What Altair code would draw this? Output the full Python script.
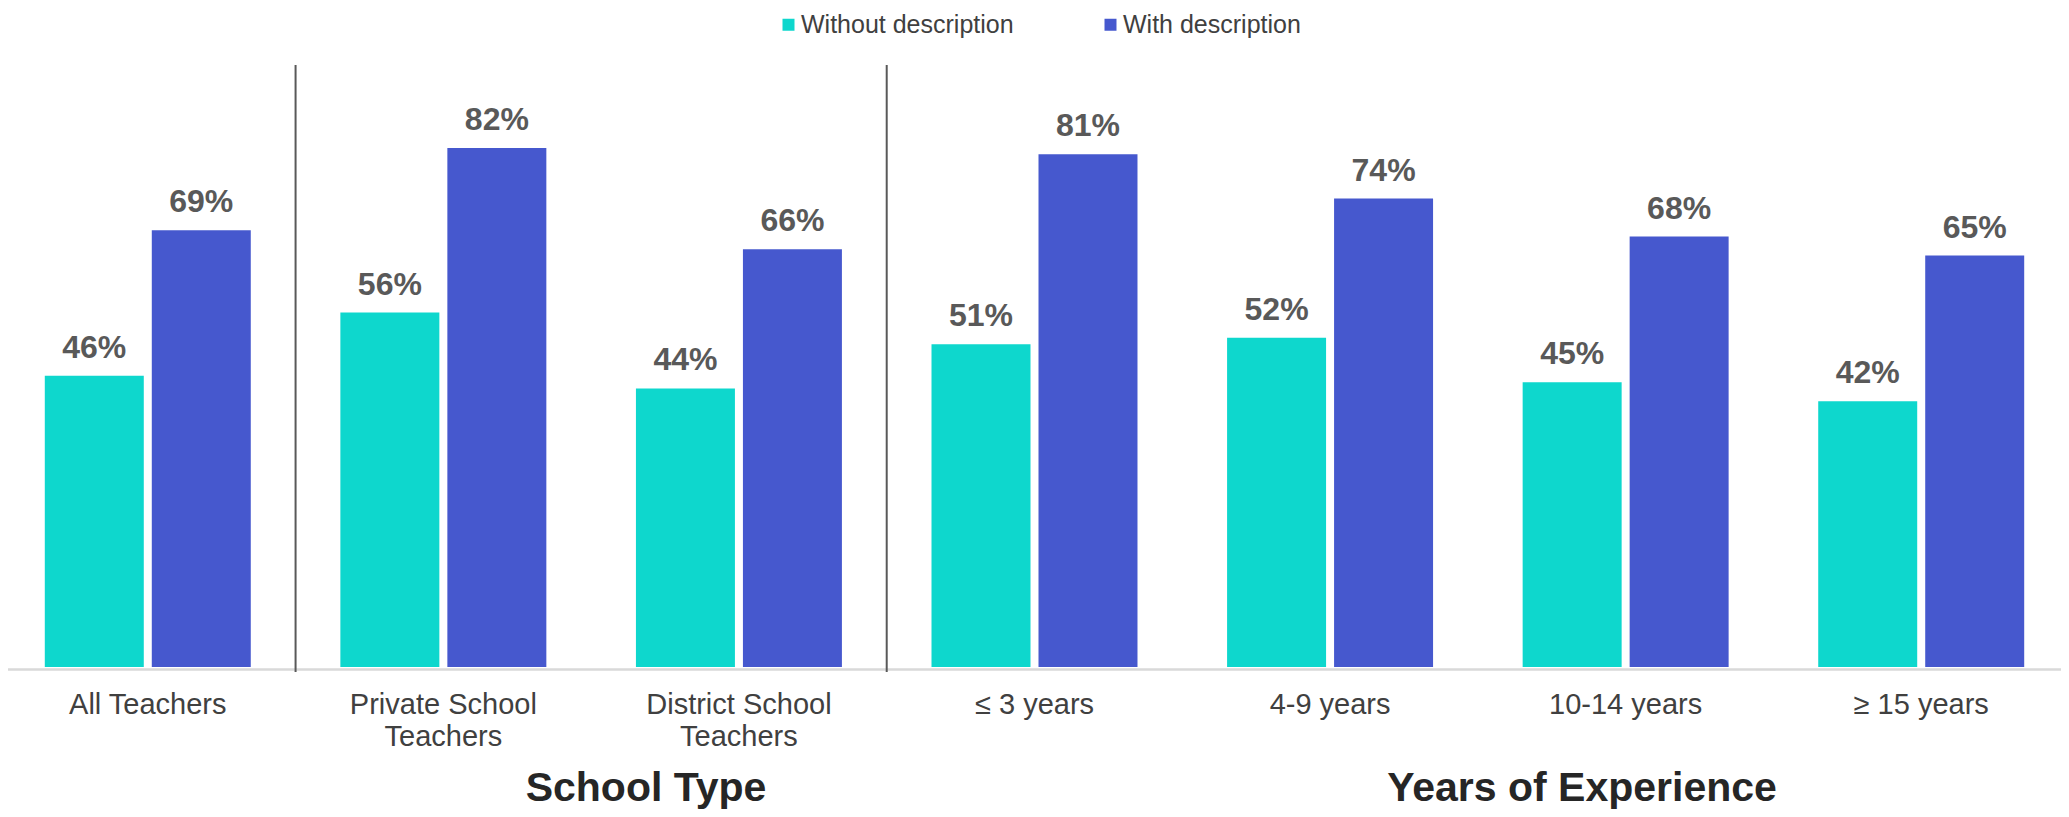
import altair as alt
import pandas as pd

categories = ["All Teachers", "Private School\nTeachers", "District School\nTeachers",
              "≤ 3 years", "4-9 years", "10-14 years", "≥ 15 years"]
series = ["Without description", "With description"]
without_desc = [46, 56, 44, 51, 52, 45, 42]
with_desc = [69, 82, 66, 81, 74, 68, 65]
section_starts = ["Private School\nTeachers", "≤ 3 years"]
section_titles = ["School Type", "Years of Experience"]
colors = ["#0ED7CD", "#4658CE"]

rows = []
for c, a, b in zip(categories, without_desc, with_desc):
    rows.append({"category": c, "series": series[0], "value": a, "label": f"{a}%"})
    rows.append({"category": c, "series": series[1], "value": b, "label": f"{b}%"})
df = pd.DataFrame(rows)
sep_df = pd.DataFrame({"category": section_starts})

FONT = "Liberation Sans, Arial, Helvetica, sans-serif"

x_scale = alt.Scale(domain=categories, range=[-8, 2061], paddingInner=0, paddingOuter=0)
x_axis = alt.Axis(title=None, labelAngle=0, labelFontSize=29, labelFont=FONT,
                  labelColor="#404040", labelExpr="split(datum.label, '\\n')",
                  labelLineHeight=32, ticks=False, domainColor="#D9D9D9",
                  domainWidth=2.5, offset=2, labelPadding=21, grid=False,
                  labelOverlap=False, labelLimit=400)
xoff = alt.XOffset("series:N", scale=alt.Scale(domain=series, paddingInner=0.0748,
                                                paddingOuter=0.4187))
y_enc = alt.Y("value:Q", scale=alt.Scale(domain=[0, 100]), axis=None)

bars = alt.Chart(df).mark_bar().encode(
    x=alt.X("category:N", scale=x_scale, axis=x_axis),
    xOffset=xoff,
    y=y_enc,
    color=alt.Color("series:N", scale=alt.Scale(domain=series, range=colors),
                    legend=alt.Legend(title=None, orient="none", legendX=768, legendY=-22,
                                      direction="horizontal", symbolType="square",
                                      symbolSize=144, symbolStrokeWidth=0, symbolOpacity=1,
                                      labelFontSize=25, labelFont=FONT, labelColor="#404040",
                                      labelOffset=0, columnPadding=84, padding=0,
                                      labelLimit=500)),
)

labels = alt.Chart(df).mark_text(fontSize=32, fontWeight="bold", color="#595959",
                                 baseline="alphabetic", dy=-18, font=FONT).encode(
    x=alt.X("category:N", scale=x_scale, axis=x_axis),
    xOffset=xoff,
    y=y_enc,
    text="label:N",
)

rules = alt.Chart(sep_df).mark_rule(color="#595959", strokeWidth=2).encode(
    x=alt.X("category:N", scale=x_scale, axis=x_axis, bandPosition=0),
    y=alt.value(31),
    y2=alt.value(638),
)

title1 = alt.Chart(pd.DataFrame({"t": [section_titles[0]]})).mark_text(
    fontSize=41, fontWeight="bold", color="#262626", align="center",
    baseline="alphabetic", font=FONT).encode(
    x=alt.value(638), y=alt.value(767), text="t:N")

title2 = alt.Chart(pd.DataFrame({"t": [section_titles[1]]})).mark_text(
    fontSize=41, fontWeight="bold", color="#262626", align="center",
    baseline="alphabetic", font=FONT).encode(
    x=alt.value(1574), y=alt.value(767), text="t:N")

chart = alt.layer(rules, bars, labels, title1, title2).properties(
    width=2053, height=633,
    padding={"left": 0, "top": 26, "right": 0, "bottom": 142},
    autosize=alt.AutoSizeParams(type="none"),
).configure_view(stroke=None)

chart.save("out.html", embed_options={"renderer": "svg", "actions": False})
